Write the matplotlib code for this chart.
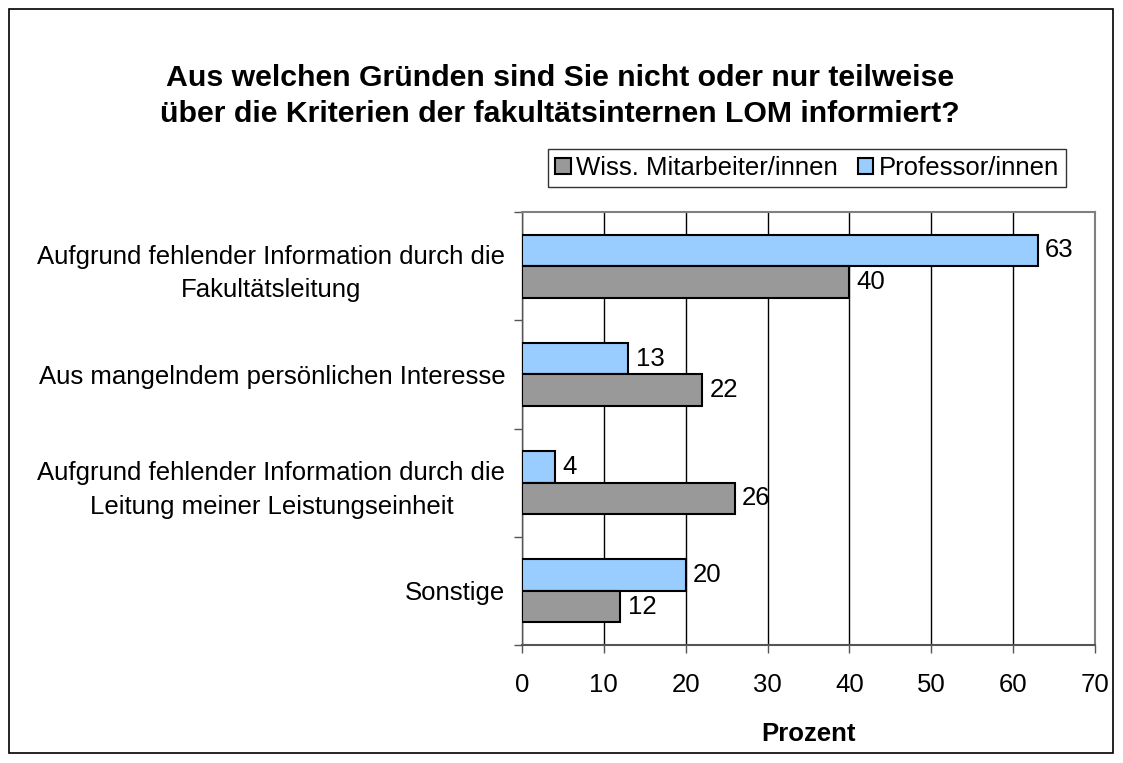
import matplotlib
matplotlib.use('Agg')
import matplotlib.pyplot as plt
import numpy as np
from matplotlib.patches import Rectangle

plt.rcParams['font.family'] = ['Liberation Sans', 'DejaVu Sans']

categories = [
    'Aufgrund fehlender Information durch die\nFakultätsleitung',
    'Aus mangelndem persönlichen Interesse',
    'Aufgrund fehlender Information durch die\nLeitung meiner Leistungseinheit',
    'Sonstige',
]
wiss = [40, 22, 26, 12]
prof = [63, 13, 4, 20]
series_names = ['Wiss. Mitarbeiter/innen', 'Professor/innen']
grey = '#999999'
blue = '#99CCFF'

FS = 18.5

fig = plt.figure(figsize=(11.23, 7.63), dpi=100)
ax = fig.add_axes([522 / 1123, 1 - 645 / 763, (1095 - 522) / 1123, (645 - 212) / 763])

y = np.arange(len(categories))
h = 0.29
b_prof = ax.barh(y - h / 2, prof, height=h, color=blue, edgecolor='black', linewidth=1.5, zorder=3)
b_wiss = ax.barh(y + h / 2, wiss, height=h, color=grey, edgecolor='black', linewidth=1.5, zorder=3)

for bars, vals in ((b_prof, prof), (b_wiss, wiss)):
    for bar, v in zip(bars, vals):
        ax.text(v + 0.9, bar.get_y() + bar.get_height() / 2, f'{v}',
                va='center', ha='left', fontsize=FS)

ax.set_xlim(0, 70)
ax.set_ylim(len(categories) - 0.5, -0.5)
ax.set_xticks(np.arange(0, 71, 10))
ax.tick_params(axis='x', labelsize=FS, length=6, width=1, color='#555555', pad=14)
ax.set_yticks(y)
ax.set_yticklabels(categories, fontsize=FS, multialignment='center', linespacing=1.5)
ax.tick_params(axis='y', which='major', length=0, pad=12)
ax.set_yticks(np.arange(-0.5, len(categories), 1), minor=True)
ax.tick_params(axis='y', which='minor', length=6, width=1, color='#555555')

ax.xaxis.grid(True, color='black', linewidth=1)
ax.set_axisbelow(True)
for s in ('top', 'right'):
    ax.spines[s].set_color('#808080')
    ax.spines[s].set_linewidth(1.5)
ax.spines['bottom'].set_color('#555555')
ax.spines['bottom'].set_linewidth(1.5)
ax.spines['left'].set_color('#555555')
ax.spines['left'].set_linewidth(1)

ax.set_xlabel('Prozent', fontsize=FS, fontweight='bold', labelpad=18)

fig.text(560 / 1123, 1 - 96 / 763,
         'Aus welchen Gründen sind Sie nicht oder nur teilweise\n'
         'über die Kriterien der fakultätsinternen LOM informiert?',
         ha='center', va='center', fontsize=21.8, fontweight='bold', linespacing=1.32)

handles = [Rectangle((0, 0), 1, 1, facecolor=grey, edgecolor='black', linewidth=1.5),
           Rectangle((0, 0), 1, 1, facecolor=blue, edgecolor='black', linewidth=1.5)]
leg = fig.legend(handles, series_names, loc='center', ncol=2,
                 bbox_to_anchor=(807 / 1123, 1 - 168 / 763), fontsize=FS,
                 frameon=True, fancybox=False, edgecolor='black',
                 handlelength=0.6, handleheight=0.6, handletextpad=0.2,
                 columnspacing=0.8, borderpad=0.28, borderaxespad=0)
leg.get_frame().set_linewidth(1)

fig.patches.append(Rectangle((9 / 1123, 10 / 763), 1104 / 1123, 744 / 763,
                             transform=fig.transFigure, fill=False,
                             edgecolor='black', linewidth=1.2))

fig.savefig('out.png', dpi=100)
